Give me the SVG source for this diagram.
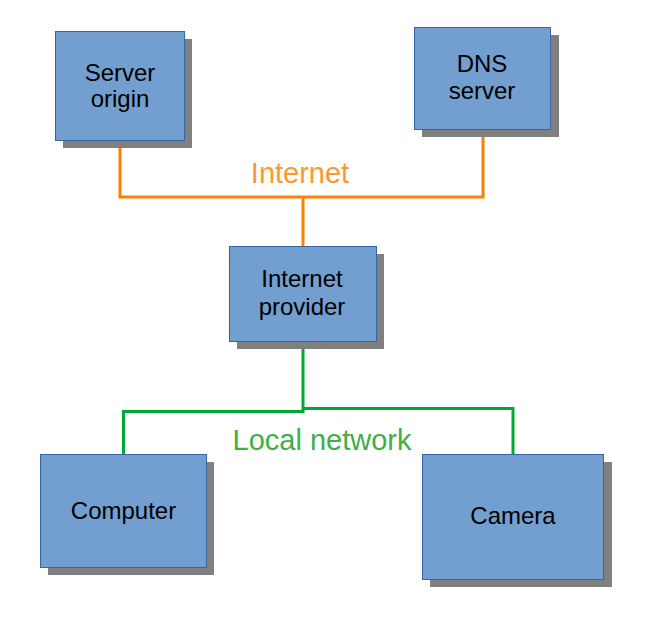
<svg xmlns="http://www.w3.org/2000/svg" width="647" height="625" viewBox="0 0 647 625">
<style>
.shadow{fill:#808080}
.box{fill:#729fcf;stroke:#3465a4;stroke-width:1}
.lbl{font-family:"Liberation Sans",Arial,sans-serif;font-size:24px;fill:#000;text-anchor:middle}
.net{font-family:"Liberation Sans",Arial,sans-serif;font-size:29px;text-anchor:middle}
.orange{fill:none;stroke:#ff8000;stroke-width:3}
.green{fill:none;stroke:#00a933;stroke-width:3}
</style>
<rect width="647" height="625" fill="#fff"/>
<g id="connectors">
<polyline class="orange" points="120,140 120,197 483,197 483,129"/>
<line class="orange" x1="303" y1="197" x2="303" y2="247"/>
<polyline class="green" points="303,341 303,411.5 123.5,411.5 123.5,454"/>
<polyline class="green" points="303,408.5 513,408.5 513,454"/>
</g>
<text class="net" x="300" y="183" fill="#ff972f">Internet</text>
<text class="net" x="322" y="450" fill="#3faf46">Local network</text>
<g id="server-origin">
<rect class="shadow" x="63" y="39" width="129" height="109"/>
<rect class="box" x="55.5" y="31.5" width="129" height="109"/>
<text class="lbl" x="120" y="81">Server</text>
<text class="lbl" x="120" y="107">origin</text>
</g>
<g id="dns-server">
<rect class="shadow" x="422" y="35" width="137" height="102"/>
<rect class="box" x="414.5" y="27.5" width="136" height="102"/>
<text class="lbl" x="482" y="72">DNS</text>
<text class="lbl" x="482" y="99">server</text>
</g>
<g id="internet-provider">
<rect class="shadow" x="237" y="254" width="147" height="95"/>
<rect class="box" x="229.5" y="246.5" width="147" height="95"/>
<text class="lbl" x="302" y="287">Internet</text>
<text class="lbl" x="302" y="315">provider</text>
</g>
<g id="computer">
<rect class="shadow" x="48" y="462" width="166" height="113"/>
<rect class="box" x="40.5" y="454.5" width="166" height="113"/>
<text class="lbl" x="123.5" y="519">Computer</text>
</g>
<g id="camera">
<rect class="shadow" x="430" y="462" width="182" height="125"/>
<rect class="box" x="422.5" y="454.5" width="181" height="125"/>
<text class="lbl" x="513" y="524">Camera</text>
</g>
</svg>
